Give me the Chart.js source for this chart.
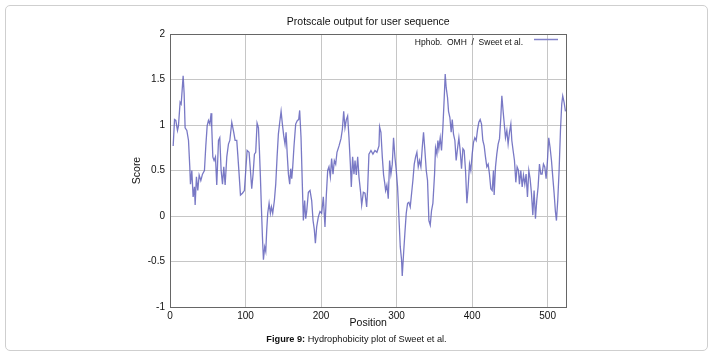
<!DOCTYPE html>
<html>
<head>
<meta charset="utf-8">
<script src="https://cdn.jsdelivr.net/npm/chart.js@4/dist/chart.umd.min.js"></script>
<style>
  html, body { margin: 0; padding: 0; background: #fff; }
  #wrap { position: relative; width: 713px; height: 357px; overflow: hidden; }
  #frame { position: absolute; left: 5px; top: 5px; width: 701px; height: 344px; border: 1px solid #cfcfcf; border-radius: 5px; }
  #c { position: absolute; left: 0; top: 0; }
  #cap { position: absolute; left: 0; top: 334px; width: 713px; text-align: center;
         font-family: "Liberation Sans", Arial, sans-serif; font-size: 9.2px; color: #111; }
</style>
</head>
<body>
<div id="wrap">
  <div id="frame"></div>
  <canvas id="c" width="713" height="357"></canvas>
  <div id="cap"><b>Figure 9:</b> Hydrophobicity plot of Sweet et al.</div>
</div>
<script>
// ---- data ----
const chartTitle = "Protscale output for user sequence";
const seriesLabel = "Hphob.  OMH  /  Sweet et al.";
const xTitle = "Position";
const yTitle = "Score";
const xTickValues = [0, 100, 200, 300, 400, 500];
const yTickValues = [-1, -0.5, 0, 0.5, 1, 1.5, 2];
const positions = [
  4.2,6,7.7,9.9,11.2,13.4,14.8,17.4,18.7,20,22.3,24.5,26.2,27.1,28.9,30.6,32.4,33.3,35,36.8,38.6,40.8,43,45.6,47.4,49.2,
  50.9,52.7,54.5,55.3,56.7,58.4,60.2,61.9,64.2,65.9,67.7,69.5,71.2,73,75.2,77.4,79.2,81.8,84.4,86.2,88.4,89.7,91.5,93.3,
  95.9,98.5,100.3,102.1,104.7,106.5,108.2,110,111.8,113.5,115.3,117.1,118.4,119.7,121,122.4,123.7,125.4,126.8,128.1,129.4,
  131.2,132.9,134.3,136,138.2,140,141.8,143.5,145.3,147.1,148.8,150.6,152.3,153.7,155.4,156.8,158.5,159.8,161.2,162.5,164.2,
  166.4,168.7,170.4,171.7,173.5,175.3,176.6,178.3,179.7,181,183.2,185.4,187.6,189.4,191.1,192.5,194.2,196.4,198.6,200.8,203,
  205.2,207,208.8,210.5,212.3,214,215.8,217.6,219.4,221.1,223.8,226.4,228.2,230,231.7,233.5,235.2,237,238.8,240.1,241.8,243.6,
  245,246.7,248.5,250.2,252.4,253.8,256,258.2,260.4,261.7,263.4,266.1,268.7,271.4,274,276.7,277.5,279.3,281.1,282.8,284.2,
  285.5,287.2,289,290.8,292.5,294.3,296,297.8,299.6,301.3,303.1,304.9,306.6,307.5,309.3,311,312.8,314.6,316.3,318.1,319.9,
  321.6,323.4,325.2,326.9,328.7,330.4,332.2,334,335.7,337.5,339.3,341,342.8,344.6,346.3,348.1,350.3,351.6,353.4,354.7,356,
  357.8,359.5,361.3,363.1,364.4,365.7,367.5,368.8,370.6,372.3,373.7,375.4,377.2,378.9,380.7,382.5,384.2,386,387.8,389.5,
  391.3,393.1,394.8,396.6,398.3,400.1,401.9,403.6,405.4,407.2,408.9,410.7,412.5,414.2,416,417.7,419.5,421.3,423,424.8,426.6,
  428.3,429.2,431,432.7,434.5,436.3,438,439.4,441.1,442.4,444.2,446,447.7,449.5,451.3,452.6,454.3,456.1,457.9,459.6,461.4,
  462.7,464.5,466.3,468,469.8,471.5,473.3,475.1,476.8,478.6,480.4,482.1,483.9,485.6,487.4,489.2,491,492.7,494.5,496.2,498,
  499.8,501.5,503.3,505.1,506.8,508.6,510.3,511.7,513.4,515.2,517,518.7,520,521.8,523.6
];
const scores = [
  0.77,1.06,1.05,0.94,0.99,1.25,1.23,1.54,1.35,0.97,0.94,0.83,0.54,0.35,0.5,0.21,0.32,0.12,0.43,0.28,0.45,0.39,0.46,0.5,0.77,0.99,
  1.05,1.01,1.13,0.97,0.65,0.61,0.65,0.34,0.83,0.86,0.5,0.35,0.54,0.34,0.65,0.79,0.83,1.03,0.92,0.83,0.83,0.68,0.46,0.23,
  0.25,0.28,0.5,0.72,0.7,0.5,0.3,0.46,0.68,0.7,1.02,0.97,0.72,0.43,0.1,-0.23,-0.48,-0.34,-0.39,-0.15,0.03,
  0.14,0.03,0.1,0.03,0.17,0.35,0.65,0.9,1.03,1.15,1.01,0.88,0.79,0.92,0.65,0.46,0.35,0.52,0.41,0.54,0.77,
  1.01,1.05,1.06,1.16,0.86,0.32,-0.05,0.17,-0.03,0.05,0.26,0.28,0.17,-0.05,-0.15,-0.3,-0.12,-0.01,0.05,0.03,0.21,
  -0.12,0.23,0.5,0.54,0.43,0.63,0.46,0.61,0.57,0.7,0.77,0.85,0.95,1.15,0.97,1.06,1.1,0.86,0.57,0.32,0.65,0.46,
  0.61,0.45,0.65,0.43,0.26,0.12,0.26,0.25,0.1,0.3,0.68,0.72,0.68,0.72,0.7,0.77,0.98,0.92,0.65,0.45,0.37,
  0.28,0.34,0.19,0.61,0.46,0.57,0.86,0.65,0.5,0.32,-0.01,-0.34,-0.48,-0.66,-0.41,-0.19,0.03,0.14,0.15,0.1,0.25,
  0.39,0.57,0.65,0.7,0.54,0.61,0.54,0.75,0.92,0.72,0.5,0.39,-0.05,-0.1,0.06,0.14,0.46,0.75,0.68,0.83,0.74,
  0.86,0.72,0.97,1.3,1.56,1.41,1.3,1.15,1.08,0.92,1.06,0.9,0.83,0.61,0.74,0.86,0.72,0.52,0.74,0.72,
  0.5,0.14,0.32,0.57,0.5,0.68,0.81,0.86,0.83,0.95,1.03,1.06,1.01,0.83,0.77,0.65,0.54,0.57,0.46,0.3,0.28,
  0.5,0.23,0.54,0.68,0.79,0.85,1.08,1.32,1.15,1.03,0.86,0.94,0.79,0.92,1.01,0.83,0.72,0.61,0.37,0.54,0.5,
  0.35,0.5,0.32,0.45,0.35,0.46,0.21,0.5,0.41,0.25,0.01,0.28,-0.03,0.17,0.32,0.57,0.46,0.46,0.57,0.54,0.41,
  0.61,0.86,0.75,0.61,0.43,0.25,0.05,-0.05,0.17,0.5,0.94,1.23,1.32,1.25,1.15
];
const xMin = 0, xMax = 525, yMin = -1, yMax = 2;

// ---- chart ----
const FONT = '"Liberation Sans", Arial, Helvetica, sans-serif';
const lineColor = 'rgba(92,92,184,0.82)';
const gridColor = '#c6c6c6';
const frameColor = '#666';

const legendInside = {
  id: 'legendInside',
  afterDatasetsDraw(chart) {
    const {ctx, chartArea} = chart;
    const ds = chart.data.datasets[0];
    ctx.save();
    const lineRight = chartArea.right - 8.5;
    const lineLeft = lineRight - 24;
    ctx.strokeStyle = 'rgb(130,130,200)';
    ctx.lineWidth = 1.5;
    ctx.beginPath();
    ctx.moveTo(lineLeft, chartArea.top + 5.5);
    ctx.lineTo(lineRight, chartArea.top + 5.5);
    ctx.stroke();
    ctx.font = '8.5px ' + FONT;
    ctx.fillStyle = '#111';
    ctx.textAlign = 'right';
    ctx.textBaseline = 'middle';
    ctx.fillText(ds.label, lineLeft - 11, chartArea.top + 8.5);
    ctx.restore();
  }
};

new Chart(document.getElementById('c'), {
  type: 'line',
  data: {
    datasets: [{
      label: seriesLabel,
      data: positions.map((p, i) => ({x: p, y: scores[i]})),
      borderColor: lineColor,
      backgroundColor: lineColor,
      borderWidth: 1.3,
      pointRadius: 0,
      tension: 0,
      fill: false,
      xAxisID: 'x',
      yAxisID: 'y'
    }]
  },
  options: {
    responsive: false,
    devicePixelRatio: 1,
    animation: false,
    layout: { padding: { left: 0, right: 146.5, top: 0, bottom: 27.7 } },
    plugins: { legend: { display: false }, tooltip: { enabled: false }, title: { display: false } },
    scales: {
      x: {
        type: 'linear', position: 'bottom', min: xMin, max: xMax,
        afterBuildTicks: s => { s.ticks = xTickValues.map(v => ({value: v})); },
        ticks: { font: { family: FONT, size: 10 }, color: '#111', padding: 3, maxRotation: 0, autoSkip: false,
                 callback: v => String(v) },
        grid: { color: gridColor, lineWidth: 1, drawTicks: false },
        border: { color: frameColor, width: 1 },
        title: { display: true, text: xTitle, font: { family: FONT, size: 10.5 }, color: '#111', padding: 0 },
        afterFit: s => { s.height = 22.3; }
      },
      x2: {
        type: 'linear', position: 'top', min: xMin, max: xMax,
        ticks: { display: false },
        grid: { display: false, drawTicks: false },
        border: { color: frameColor, width: 1 },
        title: { display: true, text: chartTitle, font: { family: FONT, size: 10.5 }, color: '#111',
                 padding: { top: 15.7, bottom: 0 } },
        afterFit: s => { s.height = 34; }
      },
      y: {
        type: 'linear', position: 'left', min: yMin, max: yMax,
        afterBuildTicks: s => { s.ticks = yTickValues.map(v => ({value: v})); },
        ticks: { font: { family: FONT, size: 10 }, color: '#111', padding: 5, autoSkip: false,
                 callback: v => String(v) },
        grid: { color: gridColor, lineWidth: 1, drawTicks: false },
        border: { color: frameColor, width: 1 },
        title: { display: true, text: yTitle, font: { family: FONT, size: 10.5 }, color: '#111',
                 padding: { top: 130.7, bottom: 0 } },
        afterFit: s => { s.width = 170; }
      },
      y2: {
        type: 'linear', position: 'right', min: yMin, max: yMax,
        ticks: { display: false },
        grid: { display: false, drawTicks: false },
        border: { color: frameColor, width: 1 },
        afterFit: s => { s.width = 0; }
      }
    }
  },
  plugins: [legendInside]
});
</script>
</body>
</html>
